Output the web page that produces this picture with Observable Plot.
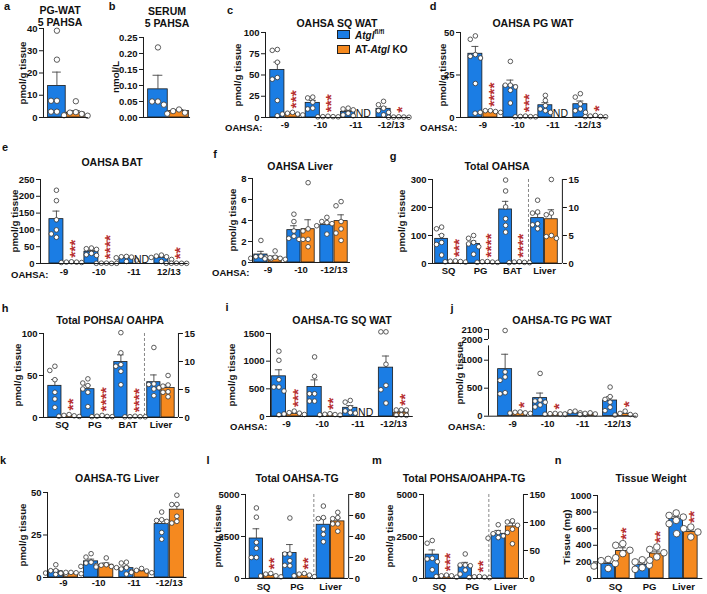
<!DOCTYPE html>
<html><head><meta charset="utf-8">
<script src="https://cdn.jsdelivr.net/npm/d3@7"></script>
<script src="https://cdn.jsdelivr.net/npm/@observablehq/plot@0.6"></script>
<style>
body{margin:0;background:#fff;}
#fig{position:relative;width:707px;height:594px;overflow:hidden;font-family:"Liberation Sans",Arial,sans-serif;color:#111;}
.abs{position:absolute;white-space:nowrap;font-weight:bold;line-height:1;}
.cc{transform:translate(-50%,-50%);text-align:center;}
.yl{transform:translate(-50%,-50%) rotate(-90deg);font-size:9.8px;}
.t{font-size:10.5px;line-height:12px;}
.l{font-size:11px;}
.lg{font-size:10px;transform:translateY(-50%);}
.lg sup{font-size:6.5px;}
.sq{position:absolute;width:13px;height:9px;box-sizing:border-box;border:1px solid #222;}
</style></head><body><div id="fig"></div><script>
// ---------------- DATA ----------------
const ctrlName = "Atgl", koName = "AT-Atgl KO";
// a
const aGroups=[""];
const aYTicks=[0,10,20,30,40];
const aCtrlMean=[14.2], aCtrlSem=[6.2], aCtrlPts=[[39,26,7.5,7.5,2.6,2.6]];
const aKoMean=[2.2], aKoSem=[0.9], aKoPts=[[7.3,2.4,2.2,1.6,1.0,0.8]];
const aSig=[""];
// b
const bGroups=[""];
const bYTicks=[0,0.05,0.10,0.15,0.20,0.25];
const bCtrlMean=[0.088], bCtrlSem=[0.044], bCtrlPts=[[0.219,0.05,0.05,0.04]];
const bKoMean=[0.02], bKoSem=[0.005], bKoPts=[[0.025,0.02,0.015,0.012]];
const bSig=[""];
// c
const cGroups=["-9","-10","-11","-12/13"];
const cYTicks=[0,25,50,75,100];
const cCtrlMean=[56,17.2,6.5,10.2], cCtrlSem=[9.2,2.9,1.6,2.4];
const cCtrlPts=[[79,80,65,47,45,20],[24,23,18,11,10],[11,10,9,5,3,2],[19,15,11,8,6,3]];
const cKoMean=[4,0.9,null,0.5], cKoSem=[0.6,0.15,null,0.1];
const cKoPts=[[6,5,4,4,3,2],[1.5,1,1,0.8,0.8],[],[0.8,0.5,0.5,0.3,0.3]];
const cSig=["***","***","ND","*"];
// d
const dGroups=["-9","-10","-11","-12/13"];
const dYTicks=[0,25,50];
const dCtrlMean=[37.5,18.8,7.2,7.8], dCtrlSem=[4.3,3.2,1.5,1.9];
const dCtrlPts=[[48,46,37,36,35,20],[33,19,19,18,16,8.5],[13,10,7,5,4,3],[14,12,8,5,4,3]];
const dKoMean=[3.3,0.6,null,0.7], dKoSem=[0.25,0.1,null,0.15];
const dKoPts=[[4,4,3.5,3,3,2.5],[0.8,0.6,0.5,0.4,0.4],[],[1.2,0.8,0.6,0.5,0.4]];
const dSig=["****","***","ND","*"];
// e
const eGroups=["-9","-10","-11","12/13"];
const eYTicks=[0,50,100,150,200,250];
const eCtrlMean=[132,35,15.5,17], eCtrlSem=[24,3.8,2.4,2.8];
const eCtrlPts=[[218,187,130,100,88,78],[44,46,42,30,24,26],[21,20,19,17,10,6],[25,22,20,18,12,6]];
const eKoMean=[3.5,0.6,null,0.6], eKoSem=[0.4,0.1,null,0.1];
const eKoPts=[[5,4,4,3,3],[1,1,0.5,0.5,0.5],[],[1,0.8,0.6,0.5,0.4]];
const eSig=["***","****","ND","**"];
// f
const fGroups=["-9","-10","-12/13"];
const fYTicks=[0,2,4,6,8];
const fCtrlMean=[0.76,3.08,3.56], fCtrlSem=[0.3,0.42,0.22];
const fCtrlPts=[[2.1,0.6,0.55,0.5,0.4,0.35],[4.6,3.9,3.0,2.5,2.3,2.2],[4.3,3.9,3.8,3.7,3.5,2.7]];
const fKoMean=[0.48,3.17,3.94], fKoSem=[0.14,0.9,0.6];
const fKoPts=[[1.1,0.5,0.45,0.4,0.35,0.3],[7.6,3.2,3.0,2.2,2.2,1.5],[5.8,5.4,3.9,3.2,2.8,2.1]];
const fSig=["","",""];
// g
const gGroups=["SQ","PG","BAT","Liver"];
const gYTicks=[0,100,200,300], gRightTicks=[0,5,10,15];
const gCtrlMean=[88,70,193,8.1], gCtrlSem=[15,10,29,0.8];
const gCtrlPts=[[124,130,100,75,68,30],[100,90,75,70,60,33],[298,259,202,160,136,112],[11.3,9.0,9.2,6.9,7.1,6.2]];
const gKoMean=[6,4.5,4,7.9], gKoSem=[0.7,0.5,0.5,1.7];
const gKoPts=[[9,8,7,6,5],[7,6,5,4,4],[6,5,4,3,3],[15,9,8.7,5,4.8,4.5]];
const gSig=["***","****","****",""];
// h
const hGroups=["SQ","PG","BAT","Liver"];
const hYTicks=[0,50,100], hRightTicks=[0,5,10,15];
const hCtrlMean=[37.7,33.7,66,6.3], hCtrlSem=[7.5,4.7,8.6,1.3];
const hCtrlPts=[[61,56,45,30,22,12],[46,41,38,34,30,13],[101,77,63,61,55,39],[12.5,6.0,5.9,5.3,5.1,3.9]];
const hKoMean=[2,1.4,1,5.25], hKoSem=[0.4,0.3,0.15,0.55];
const hKoPts=[[3.5,2.5,2,1.5,1.2],[2.5,1.5,1.2,1,1],[1.5,1,1,0.8,0.8],[7.5,5.8,5.6,4.6,4.5,3.7]];
const hSig=["**","****","****",""];
// i
const iGroups=["-9","-10","-11","-12/13"];
const iYTicks=[0,500,1000,1500];
const iCtrlMean=[726,532,157,883], iCtrlSem=[118,130,40,210];
const iCtrlPts=[[1180,1016,665,532,532,460],[1077,726,411,411,278,278],[290,260,160,100,70,60],[1530,1530,944,563,484,242]];
const iKoMean=[50,36,null,70], iKoSem=[10,5,null,18];
const iKoPts=[[97,70,60,45,36,30],[50,40,35,30,25],[],[120,118,115,30,25,20]];
const iSig=["***","**","ND","**"];
// j (broken axis)
const jGroups=["-9","-10","-11","-12/13"];
const jYTicks=[0,500,1000,2000,2100];
const jCtrlMean=[840,323,50,280], jCtrlSem=[265,90,15,70];
const jCtrlPts=[[2090,790,700,640,420,400],[764,290,270,250,200,165],[90,80,60,40,30],[520,350,300,250,160,100]];
const jKoMean=[62,40,35,40], jKoSem=[5,4,5,12];
const jKoPts=[[75,70,60,55,50],[50,45,40,35,30],[60,50,40,30],[90,50,30,20,15]];
const jSig=["*","*","","*"];
// k
const kGroups=["-9","-10","-11","-12/13"];
const kYTicks=[0,25,50];
const kCtrlMean=[3.6,9.5,5.5,31.4], kCtrlSem=[0.85,1.3,1.1,2.6];
const kCtrlPts=[[7.5,4,4,2.6,2.6,2],[14,12,9,8.5,7,6.5],[9,8.5,5.8,5,3.5,2],[38.5,34,33.5,33,26.5,22.5]];
const kKoMean=[2.4,7.5,3.6,39.9], kKoSem=[0.3,1.1,0.6,2.8];
const kKoPts=[[3,3,2.8,2.5,2.2,1.8],[11.5,7.5,7.2,6.2,5.8,6.5],[5.3,4.2,3.8,3,2.8],[48.4,43,42.9,36,33,32]];
const kSig=["","","",""];
// l
const lGroups=["SQ","PG","Liver"];
const lYTicks=[0,2500,5000], lRightTicks=[0,20,40,60,80];
const lCtrlMean=[2380,1520,51.2], lCtrlSem=[580,500,5.8];
const lCtrlPts=[[4200,3650,2150,1800,1250,1250],[3600,1460,1460,1060,780,760],[69,58,57,47,42,35]];
const lKoMean=[180,200,54.4], lKoSem=[30,30,3.2];
const lKoPts=[[300,260,160,150,100],[300,260,200,160,110],[63,58,57,52,52,45]];
const lSig=["**","**",""];
// m
const mGroups=["SQ","PG","Liver"];
const mYTicks=[0,2500,5000], mRightTicks=[0,50,100,150];
const mCtrlMean=[1420,760,79.8], mCtrlSem=[280,200,6];
const mCtrlPts=[[2260,2100,1200,1160,1000,520],[1460,800,760,800,500,260],[96,82,80,76,73,72]];
const mKoMean=[110,70,93], mKoSem=[20,15,6];
const mKoPts=[[200,160,160,120,80],[120,100,80,60,50],[103,101,95,88,82,62]];
const mSig=["***","**",""];
// n
const nGroups=["SQ","PG","Liver"];
const nYTicks=[0,200,400,600,800,1000];
const nCtrlMean=[175,165,720], nCtrlSem=[20,22,25];
const nCtrlPts=[[230,215,180,150,120],[225,200,160,130,110],[790,760,740,700,660]];
const nKoMean=[330,300,560], nKoSem=[40,30,25];
const nKoPts=[[420,400,340,300,250],[380,350,310,260,220],[620,600,560,540,500]];
const nSig=["**","**","**"];

// ---------------- DRAWING ----------------
const BLUE="#1b7de4", ORANGE="#f5891f", RED="#b73131", INK="#1a1a1a";
const FONT='"Liberation Sans", Arial, sans-serif';
const fig=document.getElementById("fig");
function txt(html,x,y,cls){const d=document.createElement("div");d.className="abs "+cls;d.style.left=x+"px";d.style.top=y+"px";d.innerHTML=html;fig.appendChild(d);return d;}

function panel(p){
  const mL=48,mR=34,mT=12,mB=26;
  const span=p.xDomain[1]-p.xDomain[0];
  const W=p.unit*span, H=p.bottom-p.top;
  const width=W+mL+mR, height=H+mT+mB;
  const yAbs=p.yRange||[p.bottom,p.top];
  const yRange=yAbs.map(v=>v-p.top+mT);
  const yPix=d3.scaleLinear(p.yDomain,yRange);
  const ymax=p.yDomain[p.yDomain.length-1];
  const k=p.rightMax?ymax/p.rightMax:1;
  const r=p.r||2.3;
  const ctrlBars=[],koBars=[],dots=[],sig=[],nd=[];
  p.groups.forEach((g,i)=>{
    const sc=(i===p.rightIdx)?k:1;
    [["ctrl",-0.215,p.ctrlMean,p.ctrlSem,p.ctrlPts,ctrlBars],["ko",0.215,p.koMean,p.koSem,p.koPts,koBars]].forEach(([geno,off,M,S,P,arr])=>{
      const cx=i+off;
      if(M[i]==null){ if(geno==="ko"&&p.sig[i]==="ND") nd.push({cx}); return; }
      const mean=M[i]*sc, sem=S[i]*sc;
      arr.push({cx,mean,sem});
      const vals=P[i].map(v=>v*sc).sort((a,b)=>b-a);
      const placed=[];
      const step=2*r+0.5;
      vals.forEach(v=>{
        const py=yPix(v);
        for(const kk of [0,-1,1,-2,2,-3,3,-4,4]){
          const ox=kk*step;
          if(placed.every(q=>Math.hypot(q.ox-ox,q.py-py)>=2*r+0.3)){placed.push({ox,py});dots.push({x:cx+ox/p.unit,y:v});break;}
        }
      });
      if(geno==="ko"&&p.sig[i]&&p.sig[i]!=="ND"){
        const topv=Math.max(mean+sem,...vals);
        sig.push({cx,y:topv,text:p.sig[i]});
      }
    });
  });
  const xmin=p.xDomain[0], xmax=p.xDomain[1];
  const fmt=p.yFmt||(d=>String(d));
  const marks=[];
  if(p.sep!=null) marks.push(Plot.ruleX([p.sep],{stroke:"#7a7a7a",strokeDasharray:"3,2",strokeWidth:0.9}));
  marks.push(
    Plot.rect(ctrlBars,{x1:d=>d.cx-0.2,x2:d=>d.cx+0.2,y1:()=>0,y2:"mean",fill:BLUE,stroke:INK,strokeWidth:0.8}),
    Plot.rect(koBars,{x1:d=>d.cx-0.2,x2:d=>d.cx+0.2,y1:()=>0,y2:"mean",fill:ORANGE,stroke:INK,strokeWidth:0.8}),
    Plot.ruleX([...ctrlBars,...koBars],{x:"cx",y1:"mean",y2:d=>d.mean+d.sem,stroke:"#444",strokeWidth:0.9}),
    Plot.ruleY([...ctrlBars,...koBars],{y:d=>d.mean+d.sem,x1:d=>d.cx-0.1,x2:d=>d.cx+0.1,stroke:"#444",strokeWidth:0.9}),
    Plot.dot(dots,{x:"x",y:"y",r,fill:"white",stroke:"#333",strokeWidth:0.8}),
    Plot.text(sig,{x:"cx",y:"y",text:"text",rotate:-90,textAnchor:"start",fontSize:15.5,fill:RED,dy:-4,dx:3.5}),
    Plot.text(nd,{x:"cx",frameAnchor:"bottom",text:()=>"ND",lineAnchor:"bottom",dy:-0.5,fontSize:10.5,fontWeight:"normal"}),
    Plot.ruleY([0],{stroke:INK,strokeWidth:1}),
    Plot.axisY({anchor:"left",ticks:p.yTicks,tickFormat:fmt,tickSize:4,tickPadding:2,label:null,stroke:INK}),
    Plot.text(p.groups.map((g,i)=>({g,i})),{x:"i",text:"g",frameAnchor:"bottom",dy:p.xdy||11,fontSize:9.5})
  );
  if(p.axisSegs) marks.push(Plot.ruleX(p.axisSegs,{x:()=>xmin,y1:d=>d[0],y2:d=>d[1],stroke:INK,strokeWidth:1}));
  else marks.push(Plot.ruleX([xmin],{stroke:INK,strokeWidth:1}));
  if(p.rightMax){
    marks.push(Plot.ruleX([xmax],{stroke:INK,strokeWidth:1}),
      Plot.axisY({anchor:"right",ticks:p.rightTicks.map(t=>t*k),tickFormat:d=>String(Math.round(d/k)),tickSize:4,tickPadding:2,label:null}));
  }
  if(p.prefix) marks.push(Plot.text([p.prefix],{frameAnchor:"bottom-left",dx:p.prefixDx||-3,dy:(p.xdy||11)+2.5,textAnchor:"end",fontSize:9.5}));
  const svg=Plot.plot({width,height,marginLeft:mL,marginRight:mR,marginTop:mT,marginBottom:mB,
    x:{type:"linear",domain:p.xDomain,axis:null},
    y:{type:"linear",domain:p.yDomain,range:yRange,label:null},
    style:{fontFamily:FONT,fontSize:"9.5px",fontWeight:"bold",color:"#111",background:"transparent",overflow:"visible"},
    marks});
  svg.style.position="absolute";svg.style.left=(p.x0-mL)+"px";svg.style.top=(p.top-mT)+"px";
  fig.appendChild(svg);
  txt(p.letter,p.letterXY[0],p.letterXY[1],"cc l");
  txt(p.title,p.titleXY[0],p.titleXY[1],"cc t");
  txt(p.ylabel||"pmol/g tissue",p.ylabelX,(p.top+p.bottom)/2,"yl");
}

panel({letter:"a",letterXY:[7,6],title:"PG-WAT<br>5 PAHSA",titleXY:[60,16],x0:43,unit:44,xDomain:[-0.52,0.5],top:28,bottom:117,yDomain:[0,40],yTicks:aYTicks,ylabelX:23,
  groups:aGroups,ctrlMean:aCtrlMean,ctrlSem:aCtrlSem,ctrlPts:aCtrlPts,koMean:aKoMean,koSem:aKoSem,koPts:aKoPts,sig:aSig,r:2.7});
panel({letter:"b",letterXY:[112,6],title:"SERUM<br>5 PAHSA",titleXY:[167,17],x0:143,unit:49,xDomain:[-0.51,0.45],top:37,bottom:117,yDomain:[0,0.25],yTicks:bYTicks,yFmt:d3.format(".2f"),ylabel:"nmol/L",ylabelX:116,
  groups:bGroups,ctrlMean:bCtrlMean,ctrlSem:bCtrlSem,ctrlPts:bCtrlPts,koMean:bKoMean,koSem:bKoSem,koPts:bKoPts,sig:bSig,r:2.7});
panel({letter:"c",letterXY:[230,10],title:"OAHSA SQ WAT",titleXY:[337,23],x0:265,unit:35.4,xDomain:[-0.55,3.55],top:32,bottom:117,yDomain:[0,100],yTicks:cYTicks,ylabelX:238,prefix:"OAHSA:",
  groups:cGroups,ctrlMean:cCtrlMean,ctrlSem:cCtrlSem,ctrlPts:cCtrlPts,koMean:cKoMean,koSem:cKoSem,koPts:cKoPts,sig:cSig});
panel({letter:"d",letterXY:[433,6],title:"OAHSA PG WAT",titleXY:[533,23],x0:460,unit:35,xDomain:[-0.64,3.55],top:32,bottom:117,yDomain:[0,50],yTicks:dYTicks,ylabelX:443,prefix:"OAHSA:",
  groups:dGroups,ctrlMean:dCtrlMean,ctrlSem:dCtrlSem,ctrlPts:dCtrlPts,koMean:dKoMean,koSem:dKoSem,koPts:dKoPts,sig:dSig});
panel({letter:"e",letterXY:[5,147],title:"OAHSA BAT",titleXY:[112,162],x0:40,unit:35,xDomain:[-0.67,3.55],top:179,bottom:263,yDomain:[0,250],yTicks:eYTicks,ylabelX:15,prefix:"OAHSA:",prefixDx:8,xdy:12,
  groups:eGroups,ctrlMean:eCtrlMean,ctrlSem:eCtrlSem,ctrlPts:eCtrlPts,koMean:eKoMean,koSem:eKoSem,koPts:eKoPts,sig:eSig});
panel({letter:"f",letterXY:[215,154],title:"OAHSA Liver",titleXY:[300,166],x0:252,unit:33,xDomain:[-0.47,2.5],top:178,bottom:262,yDomain:[0,8],yTicks:fYTicks,ylabelX:233,prefix:"OAHSA:",
  groups:fGroups,ctrlMean:fCtrlMean,ctrlSem:fCtrlSem,ctrlPts:fCtrlPts,koMean:fKoMean,koSem:fKoSem,koPts:fKoPts,sig:fSig});
panel({letter:"g",letterXY:[393,156],title:"Total OAHSA",titleXY:[497,166],x0:432,unit:32,xDomain:[-0.5,3.56],top:179,bottom:263,yDomain:[0,300],yTicks:gYTicks,ylabelX:402,
  rightMax:15,rightTicks:gRightTicks,rightIdx:3,sep:2.5,
  groups:gGroups,ctrlMean:gCtrlMean,ctrlSem:gCtrlSem,ctrlPts:gCtrlPts,koMean:gKoMean,koSem:gKoSem,koPts:gKoPts,sig:gSig});
panel({letter:"h",letterXY:[5,308],title:"Total POHSA/ OAHPA",titleXY:[110,320],x0:43,unit:33,xDomain:[-0.56,3.53],top:333,bottom:417,yDomain:[0,100],yTicks:hYTicks,ylabelX:18,
  rightMax:15,rightTicks:hRightTicks,rightIdx:3,sep:2.5,
  groups:hGroups,ctrlMean:hCtrlMean,ctrlSem:hCtrlSem,ctrlPts:hCtrlPts,koMean:hKoMean,koSem:hKoSem,koPts:hKoPts,sig:hSig});
panel({letter:"i",letterXY:[227,307],title:"OAHSA-TG SQ WAT",titleXY:[342,320],x0:270,unit:35.7,xDomain:[-0.45,3.55],top:333,bottom:416,yDomain:[0,1500],yTicks:iYTicks,ylabelX:232,prefix:"OAHSA:",
  groups:iGroups,ctrlMean:iCtrlMean,ctrlSem:iCtrlSem,ctrlPts:iCtrlPts,koMean:iKoMean,koSem:iKoSem,koPts:iKoPts,sig:iSig});
panel({letter:"j",letterXY:[452,308],title:"OAHSA-TG PG WAT",titleXY:[562,320],x0:488,unit:35,xDomain:[-0.69,3.55],top:329.3,bottom:416,
  yDomain:[0,1000,1252,2000,2100],yRange:[416,360,345.7,339.3,329.3],axisSegs:[[0,1252],[2000,2100]],yTicks:jYTicks,ylabelX:460,prefix:"OAHSA:",
  groups:jGroups,ctrlMean:jCtrlMean,ctrlSem:jCtrlSem,ctrlPts:jCtrlPts,koMean:jKoMean,koSem:jKoSem,koPts:jKoPts,sig:jSig});
panel({letter:"k",letterXY:[3,460],title:"OAHSA-TG Liver",titleXY:[117,478],x0:47,unit:35.3,xDomain:[-0.45,3.5],top:492,bottom:577,yDomain:[0,50],yTicks:kYTicks,ylabelX:23,xdy:9,
  groups:kGroups,ctrlMean:kCtrlMean,ctrlSem:kCtrlSem,ctrlPts:kCtrlPts,koMean:kKoMean,koSem:kKoSem,koPts:kKoPts,sig:kSig});
panel({letter:"l",letterXY:[208,460],title:"Total OAHSA-TG",titleXY:[297,478],x0:245,unit:33.5,xDomain:[-0.54,2.54],top:494,bottom:578,yDomain:[0,5000],yTicks:lYTicks,ylabelX:218,
  rightMax:80,rightTicks:lRightTicks,rightIdx:2,sep:1.5,xdy:12,
  groups:lGroups,ctrlMean:lCtrlMean,ctrlSem:lCtrlSem,ctrlPts:lCtrlPts,koMean:lKoMean,koSem:lKoSem,koPts:lKoPts,sig:lSig});
panel({letter:"m",letterXY:[377,460],title:"Total POHSA/OAHPA-TG",titleXY:[464,478],x0:423,unit:33,xDomain:[-0.48,2.55],top:494,bottom:578,yDomain:[0,5000],yTicks:mYTicks,ylabelX:390,
  rightMax:150,rightTicks:mRightTicks,rightIdx:2,sep:1.5,xdy:12,
  groups:mGroups,ctrlMean:mCtrlMean,ctrlSem:mCtrlSem,ctrlPts:mCtrlPts,koMean:mKoMean,koSem:mKoSem,koPts:mKoPts,sig:mSig});
panel({letter:"n",letterXY:[558,460],title:"Tissue Weight",titleXY:[651,478],x0:597,unit:34,xDomain:[-0.53,2.57],top:495,bottom:578,yDomain:[0,1000],yTicks:nYTicks,ylabel:"Tissue (mg)",ylabelX:567,xdy:12,
  groups:nGroups,ctrlMean:nCtrlMean,ctrlSem:nCtrlSem,ctrlPts:nCtrlPts,koMean:nKoMean,koSem:nKoSem,koPts:nKoPts,sig:nSig,r:3.3});

// legend (panel c)
function sq(x,y,col){const d=document.createElement("div");d.className="sq";d.style.left=x+"px";d.style.top=y+"px";d.style.background=col;fig.appendChild(d);}
sq(337,30,BLUE); sq(337,45,ORANGE);
txt("<i>"+ctrlName+"</i><sup>fl/fl</sup>",355,34.5,"lg");
txt("AT-<i>Atgl</i> KO",355,49.5,"lg");
</script></body></html>
